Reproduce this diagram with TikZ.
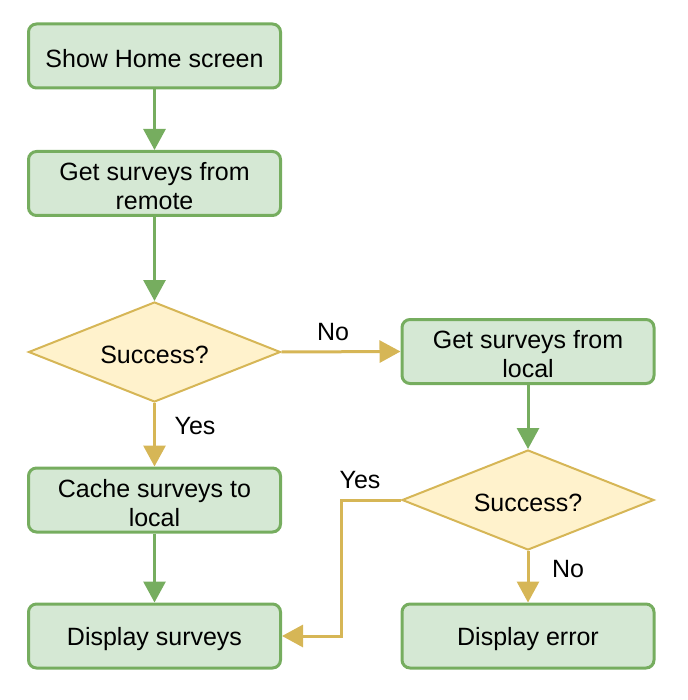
\documentclass[tikz,border=0pt]{standalone}
\usepackage{fontspec}
\setmainfont{Liberation Sans}
\usetikzlibrary{shapes.geometric,arrows.meta}
\definecolor{gfill}{HTML}{D5E8D4}
\definecolor{gline}{HTML}{76AD5F}
\definecolor{yfill}{HTML}{FFF2CC}
\definecolor{yline}{HTML}{D6B656}
\tikzset{
  txt/.style={align=center, inner sep=0pt, yshift=-3pt, font=\fontsize{25}{29}\selectfont},
  procbox/.style={rectangle, rounded corners=8pt, draw=gline, fill=gfill, line width=3pt,
    minimum width=252pt, minimum height=64pt, inner sep=0pt},
  decbox/.style={diamond, draw=yline, fill=yfill, line width=2pt, shape aspect=2.5,
    minimum width=252pt, minimum height=100pt, inner sep=0pt},
  garrow/.style={draw=gline, line width=3pt, -{Triangle[width=22pt,length=21pt,fill=gline]}},
  yarrow/.style={draw=yline, line width=3pt, -{Triangle[width=22pt,length=21pt,fill=yline]}},
  lbl/.style={anchor=base, inner sep=0pt, font=\fontsize{25}{29}\selectfont}
}
\begin{document}
\begin{tikzpicture}[x=1pt,y=-1pt]
\useasboundingbox (0,0) rectangle (687,700);
\node[procbox, label={[txt]center:Show Home screen}] (home) at (154.5,56) {};
\node[procbox, label={[txt]center:{Get surveys from\\remote}}] (remote) at (154.5,183.5) {};
\node[decbox, label={[txt]center:Success?}] (d1) at (154.5,352) {};
\node[procbox, label={[txt]center:{Get surveys from\\local}}] (local) at (528,351.5) {};
\node[decbox, label={[txt]center:Success?}] (d2) at (528,500) {};
\node[procbox, label={[txt]center:{Cache surveys to\\local}}] (cache) at (154.5,500) {};
\node[procbox, label={[txt]center:Display surveys}] (disp) at (154.5,636) {};
\node[procbox, label={[txt]center:Display error}] (err) at (528,636) {};
\coordinate (elb) at (341.5,0);

\draw[garrow] (home.south) -- (remote.north);
\draw[garrow] (remote.south) -- (d1.north);
\draw[yarrow] (d1.east) -- (local.west);
\draw[yarrow] (d1.south) -- (cache.north);
\draw[garrow] (local.south) -- (d2.north);
\draw[garrow] (cache.south) -- (disp.north);
\draw[yarrow] (d2.south) -- (err.north);
\draw[yarrow] (d2.west) -- (elb |- d2.west) -- (elb |- disp.east) -- (disp.east);

\node[lbl] (l1) at (333,340) {No};
\node[lbl] (l2) at (195,434) {Yes};
\node[lbl] (l3) at (360,488) {Yes};
\node[lbl] (l4) at (568,577) {No};
\end{tikzpicture}
\end{document}
